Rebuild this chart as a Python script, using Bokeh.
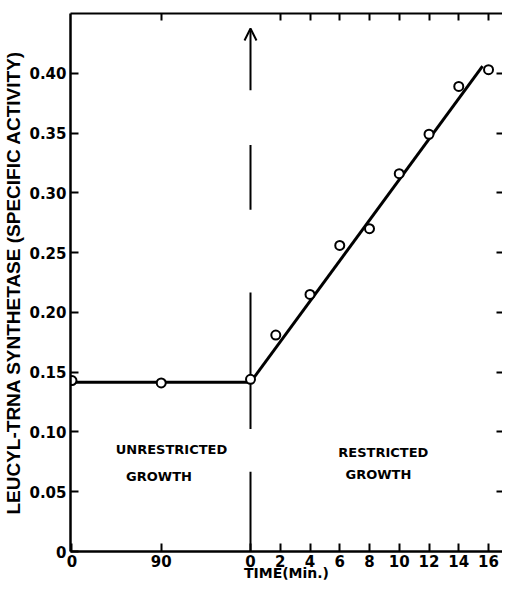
from bokeh.plotting import figure
from bokeh.models import Range1d, FixedTicker, LinearAxis, Label, Arrow, OpenHead, PrintfTickFormatter
from bokeh.embed import file_html
from bokeh.resources import INLINE

# ---- data ----
unrestricted_time = [0, 90]                 # min, unrestricted growth
unrestricted_activity = [0.143, 0.141]
restricted_time = [0, 1.7, 4, 6, 8, 10, 12, 14, 16]   # min, restricted growth
restricted_activity = [0.144, 0.181, 0.215, 0.256, 0.270, 0.316, 0.349, 0.389, 0.403]
flat_fit_time = [0, 180]                    # unrestricted-growth minutes
flat_fit_activity = [0.1415, 0.1415]
slope_fit_time = [0, 15.6]                  # restricted-growth minutes
slope_fit_activity = [0.1415, 0.406]
unrestricted_ticks = [0, 90]
restricted_ticks = [0, 2, 4, 6, 8, 10, 12, 14, 16]
y_ticks = [0, 0.05, 0.10, 0.15, 0.20, 0.25, 0.30, 0.35, 0.40]
# dashed divider at the shift (activity extents of each dash)
divider_dash_start = [0.0, 0.1025, 0.2858]
divider_dash_end = [0.0667, 0.2167, 0.3400]
arrow_extent = [0.3858, 0.4375]

# broken time axis: unrestricted minutes compressed to the left of the shift
BREAK_AT = 180.0
COMPRESS = 15.0
def unrestricted_pos(t):
    return (t - BREAK_AT) / COMPRESS

FONT = "DejaVu Sans"

p = figure(width=502, height=583, x_range=Range1d(-12.1, 16.94), y_range=Range1d(0, 0.45),
           output_backend="svg", toolbar_location=None,
           min_border_left=62, min_border_right=0, min_border_top=13, min_border_bottom=32)
p.background_fill_color = "white"
p.border_fill_color = "white"
p.outline_line_color = None
p.xgrid.visible = False
p.ygrid.visible = False

# ---- x axis (bottom) ----
x_tick_pos = [unrestricted_pos(t) for t in unrestricted_ticks] + restricted_ticks
x_tick_text = [str(t) for t in unrestricted_ticks] + [str(t) for t in restricted_ticks]
xa = p.xaxis[0]
xa.ticker = FixedTicker(ticks=x_tick_pos)
xa.major_label_overrides = {pos: txt for pos, txt in zip(x_tick_pos, x_tick_text)}
xa.minor_tick_line_color = None
xa.major_tick_in = 8
xa.major_tick_out = 0
xa.major_tick_line_width = 2
xa.axis_line_width = 2.5
xa.major_label_standoff = 3
xa.major_label_text_font = FONT
xa.major_label_text_font_style = "bold"
xa.major_label_text_font_size = "15px"
xa.major_label_text_color = "black"
xa.axis_label = "TIME(Min.)"
xa.axis_label_text_font = FONT
xa.axis_label_text_font_style = "bold"
xa.axis_label_text_font_size = "14px"
xa.axis_label_text_color = "black"
xa.axis_label_standoff = -5

# ---- y axis (left) ----
ya = p.yaxis[0]
ya.ticker = FixedTicker(ticks=y_ticks)
ya.formatter = PrintfTickFormatter(format="%.2f")
ya.major_label_overrides = {0: "0"}
ya.minor_tick_line_color = None
ya.major_tick_in = 8
ya.major_tick_out = 0
ya.major_tick_line_width = 2
ya.axis_line_width = 2.5
ya.major_label_standoff = 4
ya.major_label_text_font = FONT
ya.major_label_text_font_style = "bold"
ya.major_label_text_font_size = "15px"
ya.major_label_text_color = "black"
ya.axis_label = "LEUCYL-TRNA SYNTHETASE (SPECIFIC ACTIVITY)"
ya.axis_label_text_font = "Liberation Sans"
ya.axis_label_text_font_style = "bold"
ya.axis_label_text_font_size = "19px"
ya.axis_label_text_color = "black"
ya.axis_label_standoff = 2

# ---- top axis: ticks only ----
top_pos = [unrestricted_pos(90)] + restricted_ticks[1:]
top = LinearAxis(ticker=FixedTicker(ticks=top_pos),
                 major_label_overrides={t: "" for t in top_pos},
                 major_tick_in=7, major_tick_out=0, minor_tick_line_color=None,
                 major_tick_line_width=2, axis_line_width=2, major_label_standoff=0,
                 axis_label_standoff=0, major_label_text_font_size="0px")
p.add_layout(top, "above")

# ---- right axis: ticks only ----
right = LinearAxis(ticker=FixedTicker(ticks=y_ticks[1:]),
                   major_label_overrides={t: "" for t in y_ticks[1:]},
                   major_tick_in=6, major_tick_out=0, minor_tick_line_color=None,
                   major_tick_line_width=2, axis_line_color=None, major_label_standoff=0,
                   axis_label_standoff=0, major_label_text_font_size="0px")
p.add_layout(right, "right")

# ---- dashed divider and arrow ----
p.segment(x0=[0] * len(divider_dash_start), y0=divider_dash_start,
          x1=[0] * len(divider_dash_end), y1=divider_dash_end,
          line_color="black", line_width=2)
p.add_layout(Arrow(end=OpenHead(size=12, line_width=2, line_color="black"),
                   x_start=0, y_start=arrow_extent[0], x_end=0, y_end=arrow_extent[1],
                   line_width=2, line_color="black"))

# ---- fitted lines ----
p.line([unrestricted_pos(t) for t in flat_fit_time], flat_fit_activity,
       line_color="black", line_width=3)
p.line(slope_fit_time, slope_fit_activity, line_color="black", line_width=3)

# ---- data points ----
p.scatter([unrestricted_pos(t) for t in unrestricted_time], unrestricted_activity,
          size=9, fill_color="white", line_color="black", line_width=2)
p.scatter(restricted_time, restricted_activity,
          size=9, fill_color="white", line_color="black", line_width=2)

# ---- region labels ----
def add_text(x, y, s):
    p.add_layout(Label(x=x, y=y, text=s, text_align="center", text_baseline="middle",
                       text_font=FONT, text_font_style="bold", text_font_size="13px",
                       text_color="black"))

add_text(-5.31, 0.085, "UNRESTRICTED")
add_text(-6.15, 0.063, "GROWTH")
add_text(8.93, 0.083, "RESTRICTED")
add_text(8.60, 0.064, "GROWTH")

open("out.html", "w").write(file_html(p, INLINE))
